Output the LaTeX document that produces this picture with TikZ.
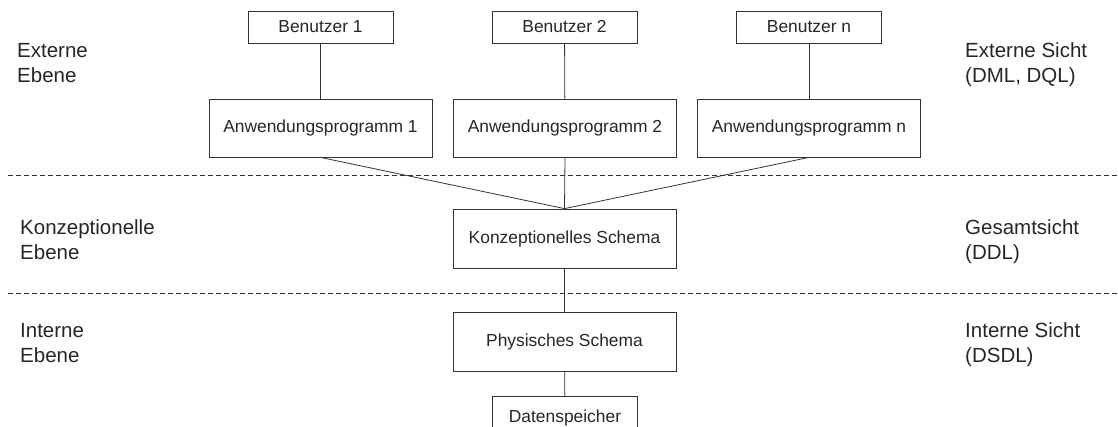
\documentclass[tikz,border=0pt]{standalone}
\usepackage{fontspec}
\setmainfont{Liberation Sans}

\begin{document}
\begin{tikzpicture}[x=1pt, y=-1pt,
  box/.style={draw=black!80, line width=0.8pt, text=black!85, inner sep=0pt,
    font=\fontsize{17.4}{20}\selectfont},
  smallbox/.style={box, minimum width=145pt, minimum height=32pt},
  bigbox/.style={box, minimum width=223pt, minimum height=58pt},
  ebene/.style={anchor=base west, align=left, inner sep=0pt, text=black!85,
    font=\fontsize{20.5}{25}\selectfont},
  trenner/.style={black!80, line width=0.7pt, dash pattern=on 5pt off 3pt},
  verbindung/.style={black!80, line width=0.8pt}]
\useasboundingbox (0, 0) rectangle (1118, 426);

\draw [trenner] (8, 175) -- (1118, 175);
\draw [trenner] (8, 293) -- (1118, 293);

\node [smallbox] (benutzer1) at (320.5, 27) {Benutzer 1};
\node [smallbox] (benutzer2) at (564.5, 27) {Benutzer 2};
\node [smallbox] (benutzern) at (809, 27) {Benutzer n};

\node [bigbox] (programm1) at (320.5, 128) {Anwendungsprogramm 1};
\node [bigbox] (programm2) at (565, 128) {Anwendungsprogramm 2};
\node [bigbox] (programmn) at (809, 128) {Anwendungsprogramm n};

\node [bigbox, minimum height=59pt] (konzept) at (564.5, 238.5) {Konzeptionelles Schema};
\node [bigbox, minimum height=59pt] (physisch) at (564.5, 341.5) {Physisches Schema};
\node [smallbox, minimum height=44pt] (speicher) at (565, 418) {Datenspeicher};

\draw [verbindung] (benutzer1) -- (programm1);
\draw [verbindung] (benutzer2) -- (programm2);
\draw [verbindung] (benutzern) -- (programmn);

\draw [verbindung] (programm1.south) -- (konzept.north);
\draw [verbindung] (programm2.south) -- (konzept.north);
\draw [verbindung] (programmn.south) -- (konzept.north);

\draw [verbindung] (konzept) -- (physisch);
\draw [verbindung] (physisch) -- (speicher);

\node [ebene] (extern) at (17, 82) {Externe\\Ebene};
\node [ebene] (konzeptionell) at (20, 259) {Konzeptionelle\\Ebene};
\node [ebene] (intern) at (20, 362) {Interne\\Ebene};

\node [ebene] (externsicht) at (965, 82) {Externe Sicht\\(DML, DQL)};
\node [ebene] (gesamtsicht) at (965, 259) {Gesamtsicht\\(DDL)};
\node [ebene] (internsicht) at (965, 362) {Interne Sicht\\(DSDL)};
\end{tikzpicture}
\end{document}
